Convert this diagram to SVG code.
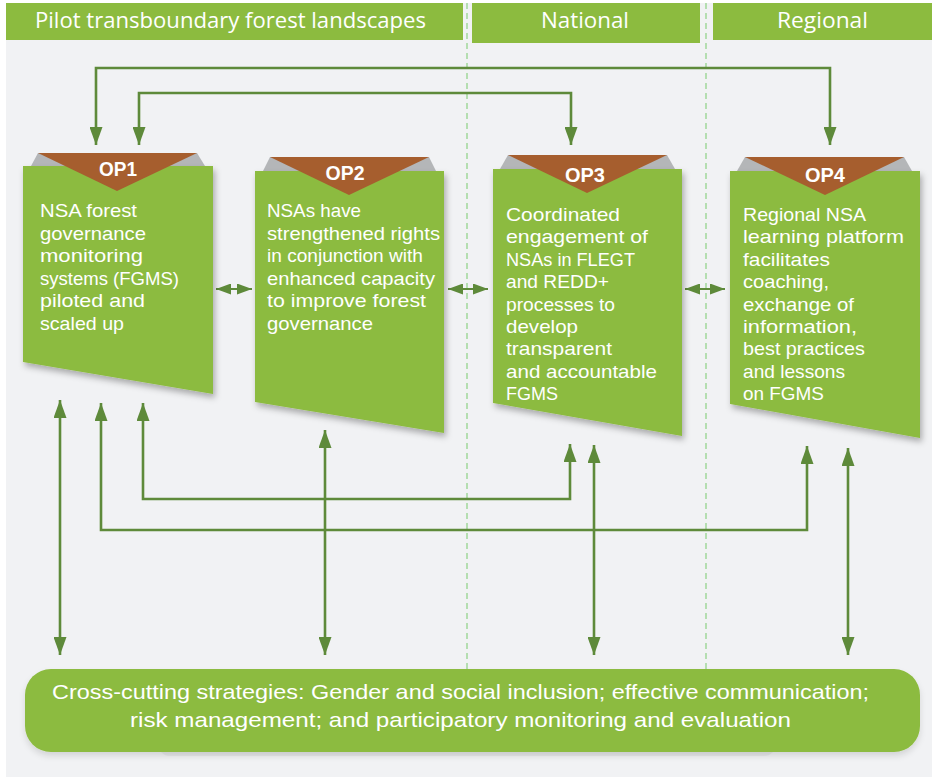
<svg xmlns="http://www.w3.org/2000/svg" width="932" height="777" viewBox="0 0 932 777">
<defs>
<style>
.hdr{fill:#8cbb3f}
.hdrt{fill:#fff;font-family:"Open Sans","Liberation Sans",sans-serif;font-size:21px}
.box{fill:#8cbb3f;filter:url(#sh)}
.tab{fill:#a65e2e}
.wedge{fill:#b4b6b8}
.op{fill:#fff;font-family:"Liberation Sans",Arial,sans-serif;font-weight:bold;font-size:20px;text-anchor:middle}
.body{fill:#fff;font-family:"Liberation Sans",Arial,sans-serif;font-size:19px}
.bot{fill:#fff;font-family:"Liberation Sans",Arial,sans-serif;font-size:21px}
.c{fill:none;stroke:#5e8a3a;stroke-width:2.6;marker-start:url(#ah);marker-end:url(#ah)}
.cs{fill:none;stroke:#5e8a3a;stroke-width:2;marker-start:url(#as);marker-end:url(#as)}
.dash{stroke:#a6d9a0;stroke-width:1.6;stroke-dasharray:6 4}
</style>
<marker id="ah" viewBox="0 0 18 13" refX="18" refY="6.5" markerWidth="18" markerHeight="13" markerUnits="userSpaceOnUse" orient="auto-start-reverse">
<path d="M0,0 L18,6.5 L0,13 z" fill="#5e8a3a"/>
</marker>
<marker id="as" viewBox="0 0 15 11" refX="15" refY="5.5" markerWidth="15" markerHeight="11" markerUnits="userSpaceOnUse" orient="auto-start-reverse">
<path d="M0,0 L15,5.5 L0,11 z" fill="#5e8a3a"/>
</marker>
<filter id="sh" x="-10%" y="-10%" width="130%" height="130%">
<feDropShadow dx="2" dy="4" stdDeviation="3" flood-color="#000" flood-opacity="0.3"/>
</filter>
<filter id="sh2" x="-10%" y="-20%" width="120%" height="150%">
<feDropShadow dx="0" dy="4" stdDeviation="3" flood-color="#000" flood-opacity="0.12"/>
</filter>
</defs>
<rect x="0" y="0" width="932" height="777" fill="#ffffff"/>
<rect x="6" y="3" width="926" height="774" fill="#f1f2f4"/>
<g id="headers">
<rect class="hdr" x="6" y="3" width="457" height="37"/>
<text class="hdrt" x="35" y="28" textLength="391" lengthAdjust="spacingAndGlyphs">Pilot transboundary forest landscapes</text>
<rect class="hdr" x="472" y="3" width="228" height="40"/>
<text class="hdrt" x="541" y="28" textLength="88" lengthAdjust="spacingAndGlyphs">National</text>
<rect class="hdr" x="713" y="3" width="219" height="37"/>
<text class="hdrt" x="777" y="28" textLength="91" lengthAdjust="spacingAndGlyphs">Regional</text>
</g>
<g id="dividers">
<line class="dash" x1="467" y1="3" x2="467" y2="669"/>
<line class="dash" x1="706" y1="3" x2="706" y2="669"/>
</g>
<g id="connectors">
<path class="c" d="M96,145 V68 H830 V145"/>
<path class="c" d="M139,145 V93 H571 V145"/>
<path class="c" d="M60,400 V655"/>
<path class="c" d="M101,403 V530 H807 V446"/>
<path class="c" d="M143,403 V499 H570 V444"/>
<path class="c" d="M325,430 V655"/>
<path class="c" d="M594,445 V655"/>
<path class="c" d="M848,448 V655"/>
<path class="cs" d="M216,289 H252"/>
<path class="cs" d="M448,289 H488"/>
<path class="cs" d="M685,289 H725"/>
</g>
<g id="op1">
<polygon class="wedge" points="31,166 38,153 197,153 205,166"/>
<polygon class="box" points="23,166 213,166 213,394 23,362"/>
<polygon class="tab" points="38,153 197,153 117,191"/>
<text class="op" x="118" y="176" textLength="38" lengthAdjust="spacingAndGlyphs">OP1</text>
<text class="body" x="40" y="217" textLength="97" lengthAdjust="spacingAndGlyphs">NSA forest</text>
<text class="body" x="40" y="239.6" textLength="106" lengthAdjust="spacingAndGlyphs">governance</text>
<text class="body" x="40" y="262.2" textLength="103" lengthAdjust="spacingAndGlyphs">monitoring</text>
<text class="body" x="40" y="284.8" textLength="139" lengthAdjust="spacingAndGlyphs">systems (FGMS)</text>
<text class="body" x="40" y="307.4" textLength="105" lengthAdjust="spacingAndGlyphs">piloted and</text>
<text class="body" x="40" y="330" textLength="84" lengthAdjust="spacingAndGlyphs">scaled up</text>
</g>
<g id="op2">
<polygon class="wedge" points="263,171 270,157 429,157 436,171"/>
<polygon class="box" points="255,171 444,171 444,433 255,402"/>
<polygon class="tab" points="270,157 429,157 349,195"/>
<text class="op" x="345" y="180" textLength="39" lengthAdjust="spacingAndGlyphs">OP2</text>
<text class="body" x="267" y="217" textLength="94" lengthAdjust="spacingAndGlyphs">NSAs have</text>
<text class="body" x="267" y="239.6" textLength="173" lengthAdjust="spacingAndGlyphs">strengthened rights</text>
<text class="body" x="267" y="262.2" textLength="156" lengthAdjust="spacingAndGlyphs">in conjunction with</text>
<text class="body" x="267" y="284.8" textLength="168" lengthAdjust="spacingAndGlyphs">enhanced capacity</text>
<text class="body" x="267" y="307.4" textLength="159" lengthAdjust="spacingAndGlyphs">to improve forest</text>
<text class="body" x="267" y="330" textLength="106" lengthAdjust="spacingAndGlyphs">governance</text>
</g>
<g id="op3">
<polygon class="wedge" points="500,169 508,155 667,155 675,169"/>
<polygon class="box" points="493,169 682,169 682,436 493,403"/>
<polygon class="tab" points="508,155 667,155 587,193"/>
<text class="op" x="585" y="182" textLength="40" lengthAdjust="spacingAndGlyphs">OP3</text>
<text class="body" x="506" y="221" textLength="114" lengthAdjust="spacingAndGlyphs">Coordinated</text>
<text class="body" x="506" y="243.4" textLength="142" lengthAdjust="spacingAndGlyphs">engagement of</text>
<text class="body" x="506" y="265.8" textLength="129" lengthAdjust="spacingAndGlyphs">NSAs in FLEGT</text>
<text class="body" x="506" y="288.2" textLength="103" lengthAdjust="spacingAndGlyphs">and REDD+</text>
<text class="body" x="506" y="310.6" textLength="109" lengthAdjust="spacingAndGlyphs">processes to</text>
<text class="body" x="506" y="333" textLength="72" lengthAdjust="spacingAndGlyphs">develop</text>
<text class="body" x="506" y="355.4" textLength="106" lengthAdjust="spacingAndGlyphs">transparent</text>
<text class="body" x="506" y="377.8" textLength="151" lengthAdjust="spacingAndGlyphs">and accountable</text>
<text class="body" x="506" y="400.2" textLength="52" lengthAdjust="spacingAndGlyphs">FGMS</text>
</g>
<g id="op4">
<polygon class="wedge" points="737,171 745,157 904,157 912,171"/>
<polygon class="box" points="730,171 920,171 920,438 730,404"/>
<polygon class="tab" points="745,157 904,157 825,195"/>
<text class="op" x="825" y="182" textLength="40" lengthAdjust="spacingAndGlyphs">OP4</text>
<text class="body" x="743" y="221" textLength="123" lengthAdjust="spacingAndGlyphs">Regional NSA</text>
<text class="body" x="743" y="243.4" textLength="161" lengthAdjust="spacingAndGlyphs">learning platform</text>
<text class="body" x="743" y="265.8" textLength="87" lengthAdjust="spacingAndGlyphs">facilitates</text>
<text class="body" x="743" y="288.2" textLength="86" lengthAdjust="spacingAndGlyphs">coaching,</text>
<text class="body" x="743" y="310.6" textLength="111" lengthAdjust="spacingAndGlyphs">exchange of</text>
<text class="body" x="743" y="333" textLength="114" lengthAdjust="spacingAndGlyphs">information,</text>
<text class="body" x="743" y="355.4" textLength="122" lengthAdjust="spacingAndGlyphs">best practices</text>
<text class="body" x="743" y="377.8" textLength="102" lengthAdjust="spacingAndGlyphs">and lessons</text>
<text class="body" x="743" y="400.2" textLength="81" lengthAdjust="spacingAndGlyphs">on FGMS</text>
</g>
<g id="cross-cutting">
<rect x="158" y="700" width="618" height="56" rx="12" fill="#e6e7e9"/>
<rect x="25" y="669" width="895" height="83" rx="26" fill="#8cbb3f" filter="url(#sh2)"/>
<text class="bot" x="52" y="699" textLength="817" lengthAdjust="spacingAndGlyphs">Cross-cutting strategies: Gender and social inclusion; effective communication;</text>
<text class="bot" x="130" y="727" textLength="661" lengthAdjust="spacingAndGlyphs">risk management; and participatory monitoring and evaluation</text>
</g>
</svg>
